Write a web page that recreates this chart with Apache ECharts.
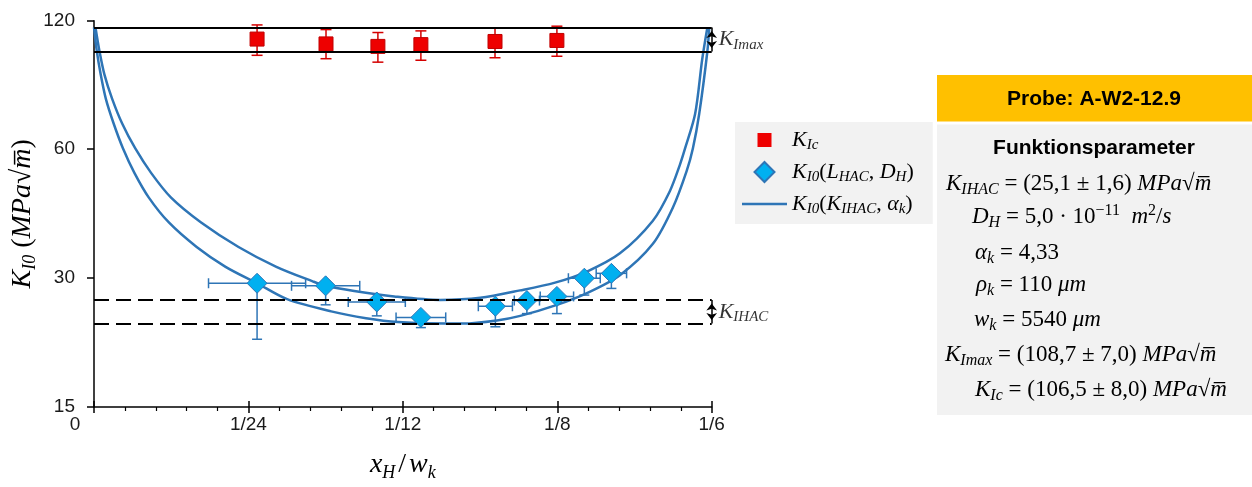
<!DOCTYPE html>
<html>
<head>
<meta charset="utf-8">
<script src="https://cdn.jsdelivr.net/npm/echarts@6.0.0/dist/echarts.min.js"></script>
<style>
    html, body { margin: 0; padding: 0; background: #fff; }
    #chart { width: 1252px; height: 487px; }
</style>
</head>
<body>
<div id="chart"></div>
<script>
// K_Ic (red squares) with y error bars
const kIcX = [0.0440, 0.0626, 0.0766, 0.0882, 0.1082, 0.1249];
const kIcY = [108.7, 105.9, 104.5, 105.5, 107.3, 107.9];
const kIcLow = [99.6, 97.8, 96.0, 97.0, 98.3, 99.1];
const kIcHigh = [117.3, 114.4, 112.6, 113.6, 115.3, 116.5];

// K_I0(L_HAC, D_H) (blue diamonds): x error is symmetric, y error only downward
const k0X = [0.0440, 0.0625, 0.0763, 0.0882, 0.1083, 0.1168, 0.1249, 0.1323, 0.1396];
const k0Y = [29.2, 28.8, 26.4, 24.3, 25.8, 26.6, 27.2, 30.0, 30.8];
const k0XErr = [0.0131, 0.0092, 0.0077, 0.0067, 0.0046, 0.0034, 0.0045, 0.0043, 0.0041];
const k0Low = [21.6, 26.0, 24.5, 23.0, 23.1, 24.8, 24.8, 27.4, 28.4];

// K_I0(K_IHAC, alpha_k) curves
const curveLowX = [0, 0.0007, 0.0018, 0.0032, 0.0053, 0.0078, 0.0109, 0.0148, 0.0202, 0.0277,
    0.0355, 0.0440, 0.0521, 0.0640, 0.0734, 0.0820, 0.0947, 0.0996, 0.1087, 0.1150,
    0.1249, 0.1330, 0.1419, 0.1508, 0.1562, 0.1599, 0.1616, 0.1633, 0.1655, 0.1660];
const curveLowY = [115.7, 102.7, 89.9, 78.8, 69.0, 60.4, 52.9, 46.3, 40.5, 35.5,
    31.9, 29.2, 26.8, 25.1, 24.2, 23.7, 23.5, 23.5, 23.9, 24.5,
    26.0, 27.7, 30.5, 36.1, 43.9, 53.4, 60.4, 72.7, 101.8, 115.7];
const curveHighX = [0.0004, 0.0014, 0.0028, 0.0049, 0.0076, 0.0111, 0.0154, 0.0208, 0.0289, 0.0390,
    0.0492, 0.0590, 0.0625, 0.0702, 0.0810, 0.0934, 0.1042, 0.1150, 0.1244, 0.1330,
    0.1419, 0.1508, 0.1554, 0.1581, 0.1595, 0.1622, 0.1641, 0.1655];
const curveHighY = [115.7, 102.7, 89.9, 78.8, 69.0, 60.4, 52.9, 46.3, 40.5, 35.5,
    31.9, 29.5, 28.8, 28.0, 27.2, 26.7, 27.0, 28.1, 29.3, 31.1,
    34.3, 40.9, 48.0, 55.3, 60.4, 72.7, 97.4, 115.7];

// scatter bands
const kImaxBand = [101.7, 115.7];
const kIhacBand = [23.5, 26.7];

const xTicks = ['0', '1/24', '1/12', '1/8', '1/6'];
const yTicks = [15, 30, 60, 120];

const serif = 'Liberation Serif';
const blue = '#2E75B6';

function mathRich(size, sub) {
    const lh = Math.round(size * 1.2);
    return {
        i: { fontFamily: serif, fontStyle: 'italic', fontSize: size, lineHeight: lh, color: '#000' },
        n: { fontFamily: serif, fontSize: size, lineHeight: lh, color: '#000' },
        s: { fontFamily: serif, fontStyle: 'italic', fontSize: sub, lineHeight: sub, padding: [lh - sub, 0, 0, 0], color: '#000' },
        p: { fontFamily: serif, fontSize: sub, lineHeight: sub, padding: [0, 0, lh - sub, 0], color: '#000' },
        g: { fontFamily: serif, fontSize: size, lineHeight: lh, color: '#000', padding: [0, 3, 0, 3] }
    };
}

const legendText = {
    'K_Ic': '{i|K}{s|Ic}',
    'K_I0 (L_HAC, D_H)': '{i|K}{s|I0}{n|(}{i|L}{s|HAC}{n|, }{i|D}{s|H}{n|)}',
    'K_I0 (K_IHAC, a_k)': '{i|K}{s|I0}{n|(}{i|K}{s|IHAC}{n|, }{i|α}{s|k}{n|)}'
};

const infoLines = [
    { x: 946, y: 184, t: '{i|K}{s|IHAC}{n| = (25,1 ± 1,6) }{i|MPa}{n|√}{i|m\u0305}' },
    { x: 972, y: 217, t: '{i|D}{s|H}{n| = 5,0 · 10}{p|−11}{n|  }{i|m}{p|2}{n|/}{i|s}' },
    { x: 975, y: 253, t: '{i|α}{s|k}{n| = 4,33}' },
    { x: 976, y: 285, t: '{i|ρ}{s|k}{n| = 110 }{i|μm}' },
    { x: 974, y: 320, t: '{i|w}{s|k}{n| = 5540 }{i|μm}' },
    { x: 945, y: 355, t: '{i|K}{s|Imax}{n| = (108,7 ± 7,0) }{i|MPa}{n|√}{i|m\u0305}' },
    { x: 975, y: 390, t: '{i|K}{s|Ic}{n| = (106,5 ± 8,0) }{i|MPa}{n|√}{i|m\u0305}' }
];

function errRed(params, api) {
    const top = api.coord([api.value(0), api.value(2)]);
    const bot = api.coord([api.value(0), api.value(1)]);
    const st = { stroke: '#D40000', lineWidth: 1.5 };
    return {
        type: 'group', children: [
            { type: 'line', shape: { x1: top[0], y1: top[1], x2: bot[0], y2: bot[1] }, style: st },
            { type: 'line', shape: { x1: top[0] - 5.5, y1: top[1], x2: top[0] + 5.5, y2: top[1] }, style: st },
            { type: 'line', shape: { x1: bot[0] - 5.5, y1: bot[1], x2: bot[0] + 5.5, y2: bot[1] }, style: st }
        ]
    };
}

function errBlue(params, api) {
    const x = api.value(0), y = api.value(1), dx = api.value(2), lo = api.value(3);
    const c = api.coord([x, y]);
    const l = api.coord([x - dx, y]);
    const r = api.coord([x + dx, y]);
    const b = api.coord([x, lo]);
    const st = { stroke: blue, lineWidth: 1.5 };
    return {
        type: 'group', children: [
            { type: 'line', shape: { x1: l[0], y1: l[1], x2: r[0], y2: r[1] }, style: st },
            { type: 'line', shape: { x1: l[0], y1: l[1] - 5, x2: l[0], y2: l[1] + 5 }, style: st },
            { type: 'line', shape: { x1: r[0], y1: r[1] - 5, x2: r[0], y2: r[1] + 5 }, style: st },
            { type: 'line', shape: { x1: c[0], y1: c[1], x2: b[0], y2: b[1] }, style: st },
            { type: 'line', shape: { x1: b[0] - 5, y1: b[1], x2: b[0] + 5, y2: b[1] }, style: st }
        ]
    };
}

const zip = (a, b) => a.map((v, i) => [v, b[i]]);
const gmean = a => Math.sqrt(a[0] * a[1]);

const chart = echarts.init(document.getElementById('chart'));
chart.setOption({
    animation: false,
    grid: { left: 94, top: 20.7, width: 617.7, height: 391.6 },
    xAxis: [
        {
            type: 'value', min: 0, max: 1 / 6, interval: 1 / 24,
            axisLine: { lineStyle: { color: '#000', width: 1.5 } },
            axisTick: { length: 6, lineStyle: { color: '#000', width: 1.5 } },
            minorTick: { show: true, splitNumber: 5, length: 4, lineStyle: { color: '#000', width: 1.2 } },
            splitLine: { show: false },
            axisLabel: {
                fontFamily: 'Liberation Sans', fontSize: 19, color: '#1a1a1a', margin: 8,
                formatter: v => {
                    const k = Math.round(v * 24);
                    return k === 0 ? '{z|' + xTicks[0] + '}' : xTicks[k];
                },
                rich: { z: { fontFamily: 'Liberation Sans', fontSize: 19, color: '#1a1a1a', padding: [0, 38, 0, 0] } }
            },
            name: '{i|x}{s|H}{g|/}{i|w}{s|k}',
            nameLocation: 'middle', nameGap: 41,
            nameTextStyle: { rich: mathRich(28, 18) }
        },
        {
            type: 'value', min: 0, max: 1 / 6, interval: 1 / 24, position: 'bottom',
            axisLine: { show: false },
            axisTick: { inside: true, length: 6, lineStyle: { color: '#000', width: 1.5 } },
            axisLabel: { show: false },
            splitLine: { show: false }
        }
    ],
    yAxis: {
        type: 'log', logBase: 2, min: yTicks[0], max: yTicks[yTicks.length - 1], interval: 1,
        axisLine: { show: true, lineStyle: { color: '#000', width: 1.5 } },
        axisTick: { show: true, length: 7, lineStyle: { color: '#000', width: 1.5 } },
        splitLine: { show: false },
        minorTick: { show: false },
        axisLabel: {
            fontFamily: 'Liberation Sans', fontSize: 19, color: '#1a1a1a', margin: 19,
            formatter: v => String(yTicks.reduce((a, b) => Math.abs(b - v) < Math.abs(a - v) ? b : a))
        },
        name: '{i|K}{s|I0}{n| (}{i|MPa}{n|√}{i|m\u0305}{n|)}',
        nameLocation: 'middle', nameRotate: 90, nameGap: 54,
        nameTextStyle: { rich: mathRich(28, 18) }
    },
    legend: {
        orient: 'vertical', left: 735, top: 122,
        padding: [5, 19, 7, 7], itemGap: 6, itemWidth: 45, itemHeight: 20,
        backgroundColor: '#F2F2F2', selectedMode: false, symbolKeepAspect: true,
        data: [
            { name: 'K_Ic', icon: 'path://M0,0h0.01v0.01h-0.01z M3,3h14v14h-14z M19.99,19.99h0.01v0.01h-0.01z', itemStyle: { borderWidth: 0 } },
            { name: 'K_I0 (L_HAC, D_H)', icon: 'path://M10,0L20,10L10,20L0,10z' },
            { name: 'K_I0 (K_IHAC, a_k)', icon: 'path://M0,0h45v2.5h-45z', itemStyle: { color: blue, borderWidth: 0 } }
        ],
        formatter: n => legendText[n],
        textStyle: { rich: mathRich(22, 15) }
    },
    graphic: [
        { type: 'rect', shape: { x: 937, y: 75, width: 315, height: 46.5 }, style: { fill: '#FFC000' } },
        { type: 'text', x: 1094, y: 99, style: { text: 'Probe: A-W2-12.9', font: 'bold 21px "Liberation Sans"', fill: '#000', align: 'center', verticalAlign: 'middle' } },
        { type: 'rect', shape: { x: 937, y: 124.5, width: 315, height: 290.5 }, style: { fill: '#F2F2F2' } },
        { type: 'text', x: 1094, y: 148.5, style: { text: 'Funktionsparameter', font: 'bold 21px "Liberation Sans"', fill: '#000', align: 'center', verticalAlign: 'middle' } }
    ].concat(infoLines.map(l => ({
        type: 'text', x: l.x, y: l.y,
        style: { text: l.t, rich: mathRich(23, 16), align: 'left', verticalAlign: 'middle' }
    }))),
    series: [
        {
            name: 'bands', type: 'line', data: [], z: 1,
            markLine: {
                silent: true, symbol: 'none', label: { show: false },
                symbolOffset: [[0, 3.5], [0, 3.5]],
                data: [
                    { yAxis: kImaxBand[0], lineStyle: { color: '#000', width: 2, type: 'solid' } },
                    { yAxis: kImaxBand[1], lineStyle: { color: '#000', width: 2, type: 'solid' } },
                    { yAxis: kIhacBand[0], lineStyle: { color: '#000', width: 2, type: [15, 7] } },
                    { yAxis: kIhacBand[1], lineStyle: { color: '#000', width: 2, type: [15, 7] } },
                    [
                        { coord: [1 / 6, kImaxBand[0]], symbol: 'arrow', symbolSize: [8, 7], lineStyle: { color: '#000', width: 1.5, type: 'solid' } },
                        { coord: [1 / 6, kImaxBand[1]], symbol: 'arrow', symbolSize: [8, 7] }
                    ],
                    [
                        { coord: [1 / 6, kIhacBand[0]], symbol: 'arrow', symbolSize: [8, 7], lineStyle: { color: '#000', width: 1.5, type: 'solid' } },
                        { coord: [1 / 6, kIhacBand[1]], symbol: 'arrow', symbolSize: [8, 7] }
                    ]
                ]
            }
        },
        {
            name: 'K_I0 (K_IHAC, a_k)', type: 'line', data: zip(curveLowX, curveLowY),
            symbol: 'none', smooth: 0.3, z: 2,
            lineStyle: { color: blue, width: 2.5 }, itemStyle: { color: blue }
        },
        {
            name: 'K_I0 (K_IHAC, a_k)', type: 'line', data: zip(curveHighX, curveHighY),
            symbol: 'none', smooth: 0.3, z: 2,
            lineStyle: { color: blue, width: 2.5 }, itemStyle: { color: blue }
        },
        {
            name: 'errRed', type: 'custom', renderItem: errRed, z: 3,
            encode: { x: 0, y: 1 },
            data: kIcX.map((x, i) => [x, kIcLow[i], kIcHigh[i]])
        },
        {
            name: 'K_Ic', type: 'scatter', symbol: 'rect', symbolSize: 14, z: 4,
            itemStyle: { color: '#EE0000', borderColor: '#C00000', borderWidth: 1, opacity: 1 },
            data: zip(kIcX, kIcY)
        },
        {
            name: 'errBlue', type: 'custom', renderItem: errBlue, z: 3,
            encode: { x: 0, y: 1 },
            data: k0X.map((x, i) => [x, k0Y[i], k0XErr[i], k0Low[i]])
        },
        {
            name: 'K_I0 (L_HAC, D_H)', type: 'scatter', symbol: 'diamond', symbolSize: 20, z: 4,
            itemStyle: { color: '#00B0F0', borderColor: blue, borderWidth: 1, opacity: 1 },
            data: zip(k0X, k0Y)
        },
        {
            name: 'bandLabels', type: 'scatter', symbolSize: 0, z: 5, silent: true,
            data: [
                { value: [1 / 6, gmean(kImaxBand)], label: { formatter: '{i|K}{s|Imax}' } },
                { value: [1 / 6, gmean(kIhacBand)], label: { formatter: '{i|K}{s|IHAC}' } }
            ],
            label: { show: true, position: 'right', distance: 7, rich: mathRich(22, 15) }
        }
    ]
});
</script>
</body>
</html>
